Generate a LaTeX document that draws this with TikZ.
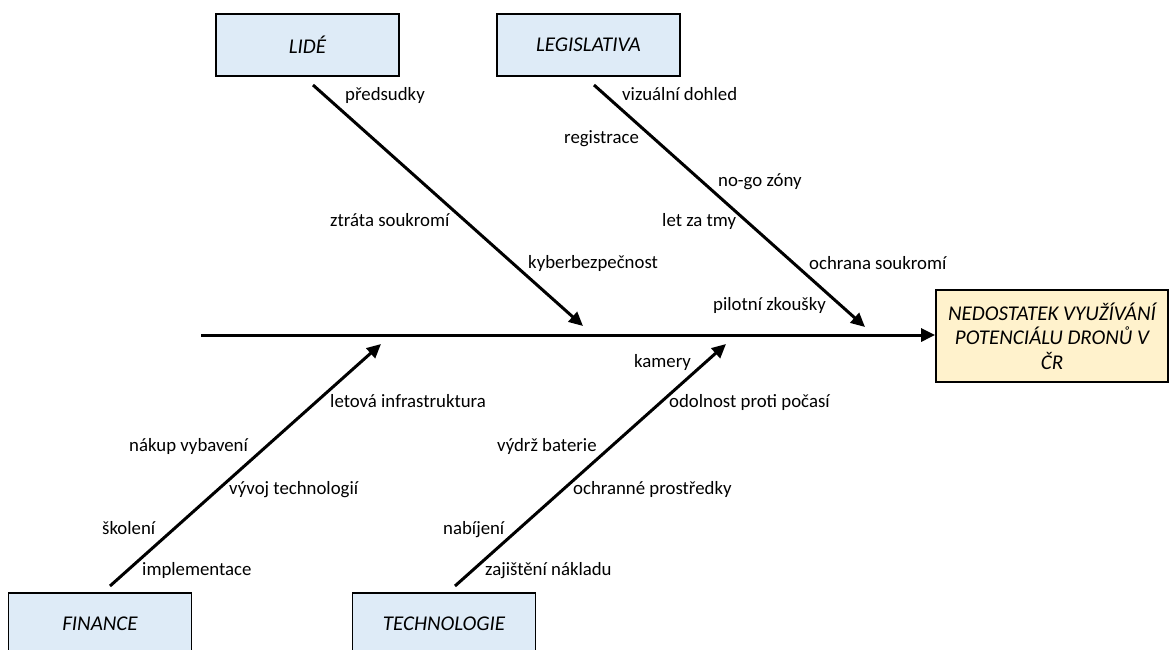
\documentclass[tikz,border=0pt]{standalone}
\usepackage{fontspec}
\setmainfont{Carlito}
\usetikzlibrary{arrows.meta}
\definecolor{boxblue}{HTML}{DEEBF7}
\definecolor{boxgold}{HTML}{FFF2CC}
\begin{document}
\begin{tikzpicture}[x=1pt,y=-1pt,
  lab/.style={anchor=west, inner sep=0pt, font=\fontsize{18.8}{22}\selectfont, text height=13pt, text depth=4pt},
  catbox/.style={draw, line width=1.8pt, fill=boxblue, minimum width=183pt, minimum height=62pt, inner sep=0pt, font=\fontsize{21}{25}\selectfont\itshape},
  resbox/.style={draw, line width=1.8pt, fill=boxgold, minimum width=232pt, minimum height=92pt, inner sep=0pt, align=center, font=\fontsize{21}{24.5}\selectfont\itshape},
  bone/.style={line width=3pt, -{Triangle[length=14pt,width=13pt]}}]
\clip (0,0) rectangle (1169,649);
\fill[white] (0,0) rectangle (1169,649);
% boxes
\node[catbox] (lide) at (307.5,45) {LIDÉ};
\node[catbox] (legis) at (588.5,45) {LEGISLATIVA};
\node[catbox] (fin) at (100,624) {FINANCE};
\node[catbox] (tech) at (444,624) {TECHNOLOGIE};
\node[resbox] (res) at (1052,336) {NEDOSTATEK VYUŽÍVÁNÍ\\POTENCIÁLU DRONŮ V\\ČR};
% spine
\coordinate (s0) at (201,335);
\draw[bone] (s0) -- (res.west |- s0);
% branch coordinates
\coordinate (lA) at (313,85);  \coordinate (lB) at (583,326);
\coordinate (gA) at (594,85);  \coordinate (gB) at (865,327);
\coordinate (fA) at (110,586); \coordinate (fB) at (381,344);
\coordinate (tA) at (455,586); \coordinate (tB) at (726,344);
\draw[bone] (lA) -- (lB);
\draw[bone] (gA) -- (gB);
\draw[bone] (fA) -- (fB);
\draw[bone] (tA) -- (tB);
% labels LIDÉ
\node[lab] (t1) at (345,96) {předsudky};
\node[lab] (t2) at (330,222) {ztráta soukromí};
\node[lab] (t3) at (528,264) {kyberbezpečnost};
% labels LEGISLATIVA
\node[lab] (t4) at (622,96) {vizuální dohled};
\node[lab] (t5) at (564,139) {registrace};
\node[lab] (t6) at (718,182) {no-go zóny};
\node[lab] (t7) at (662,222) {let za tmy};
\node[lab] (t8) at (809,265) {ochrana soukromí};
\node[lab] (t9) at (713,306) {pilotní zkoušky};
% labels FINANCE
\node[lab] (t10) at (330,403) {letová infrastruktura};
\node[lab] (t11) at (129,447) {nákup vybavení};
\node[lab] (t12) at (229,490) {vývoj technologií};
\node[lab] (t13) at (102,530) {školení};
\node[lab] (t14) at (142,571) {implementace};
% labels TECHNOLOGIE
\node[lab] (t15) at (634,363) {kamery};
\node[lab] (t16) at (669,403) {odolnost proti počasí};
\node[lab] (t17) at (497,447) {výdrž baterie};
\node[lab] (t18) at (573,490) {ochranné prostředky};
\node[lab] (t19) at (443,530) {nabíjení};
\node[lab] (t20) at (485,571) {zajištění nákladu};
\end{tikzpicture}
\end{document}
